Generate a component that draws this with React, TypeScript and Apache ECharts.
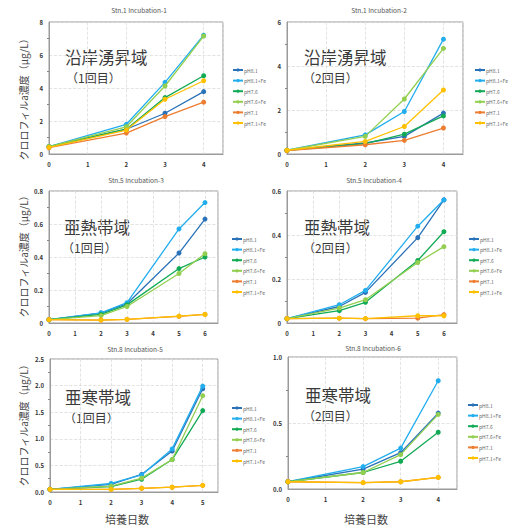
import React, { useEffect, useRef } from "react";
import * as echarts from "echarts";

const seriesNames = ["pH8.1", "pH8.1+Fe", "pH7.6", "pH7.6+Fe", "pH7.1", "pH7.1+Fe"];
const seriesColors = ["#2a72b8", "#22aeee", "#12aa55", "#92cf50", "#ed7d31", "#ffc000"];

const panelTitles = [
  "Stn.1 Incubation-1",
  "Stn.1 Incubation-2",
  "Stn.5 Incubation-3",
  "Stn.5 Incubation-4",
  "Stn.8 Incubation-5",
  "Stn.8 Incubation-6",
];
const regionLabels = ["沿岸湧昇域", "沿岸湧昇域", "亜熱帯域", "亜熱帯域", "亜寒帯域", "亜寒帯域"];
const roundLabels = ["（1回目）", "（2回目）", "（1回目）", "（2回目）", "（1回目）", "（2回目）"];
const yAxisTitle = "クロロフィルa濃度（μg/L）";
const xAxisTitle = "培養日数";

const yMaxes = [8, 6, 0.8, 0.6, 2.5, 1.0];
const yIntervals = [2, 2, 0.2, 0.2, 0.5, 0.5];
const xMaxes = [4.5, 4.5, 6.5, 6.5, 5.5, 4.5];

const inc1Days = [0, 2, 3, 4];
const inc1 = [
  [0.45, 1.5, 2.47, 3.78],
  [0.45, 1.8, 4.34, 7.2],
  [0.45, 1.5, 3.42, 4.74],
  [0.45, 1.65, 4.12, 7.15],
  [0.38, 1.27, 2.27, 3.14],
  [0.4, 1.45, 3.32, 4.44],
];

const inc2Days = [0, 2, 3, 4];
const inc2 = [
  [0.17, 0.5, 0.8, 1.86],
  [0.17, 0.87, 1.93, 5.22],
  [0.17, 0.47, 0.9, 1.73],
  [0.17, 0.8, 2.5, 4.8],
  [0.15, 0.42, 0.62, 1.18],
  [0.17, 0.57, 1.25, 2.91],
];

const inc3Days = [0, 2, 3, 5, 6];
const inc3 = [
  [0.02, 0.06, 0.117, 0.424, 0.63],
  [0.02, 0.062, 0.123, 0.57, 0.73],
  [0.02, 0.052, 0.11, 0.33, 0.4],
  [0.02, 0.045, 0.1, 0.3, 0.42],
  [0.02, 0.018, 0.022, 0.04, 0.052],
  [0.02, 0.018, 0.022, 0.042, 0.052],
];

const inc4Days = [0, 2, 3, 5, 6];
const inc4 = [
  [0.02, 0.075, 0.139, 0.388, 0.56],
  [0.02, 0.083, 0.148, 0.44, 0.56],
  [0.02, 0.056, 0.094, 0.284, 0.415],
  [0.02, 0.068, 0.106, 0.275, 0.347],
  [0.02, 0.022, 0.02, 0.022, 0.038],
  [0.02, 0.022, 0.02, 0.033, 0.033],
];

const inc5Days = [0, 2, 3, 4, 5];
const inc5 = [
  [0.05, 0.145, 0.33, 0.77, 1.94],
  [0.05, 0.16, 0.32, 0.81, 1.99],
  [0.05, 0.1, 0.24, 0.61, 1.53],
  [0.05, 0.11, 0.26, 0.61, 1.81],
  [0.05, 0.05, 0.07, 0.09, 0.125],
  [0.05, 0.05, 0.07, 0.09, 0.125],
];

const inc6Days = [0, 2, 3, 4];
const inc6 = [
  [0.055, 0.15, 0.275, 0.575],
  [0.055, 0.17, 0.31, 0.82],
  [0.055, 0.125, 0.21, 0.43],
  [0.055, 0.125, 0.26, 0.565],
  [0.055, 0.048, 0.055, 0.088],
  [0.055, 0.048, 0.055, 0.088],
];

const panelDays = [inc1Days, inc2Days, inc3Days, inc4Days, inc5Days, inc6Days];
const panelValues = [inc1, inc2, inc3, inc4, inc5, inc6];

// layout (pixels)
const grids = [
  { left: 49, top: 22, width: 174, height: 132 },
  { left: 287, top: 22, width: 176, height: 132 },
  { left: 49, top: 191, width: 169, height: 132 },
  { left: 287, top: 191, width: 170, height: 132 },
  { left: 50, top: 359, width: 168, height: 133 },
  { left: 288, top: 357, width: 169, height: 132 },
];
const legendPos = [
  { left: 232, top: 67 },
  { left: 474, top: 67 },
  { left: 231, top: 236 },
  { left: 468, top: 236 },
  { left: 231, top: 405 },
  { left: 467, top: 402 },
];
const titlePos = [
  [139, 10],
  [379, 10],
  [136, 180],
  [374, 180],
  [135, 349],
  [373, 348],
];
const regionPos = [
  [65, 57],
  [304, 57],
  [64, 227],
  [304, 227],
  [65, 396.5],
  [305, 394.5],
];
const roundPos = [
  [66, 77.8],
  [303, 77.8],
  [62, 247.8],
  [303, 247.8],
  [64, 417.3],
  [303, 415.3],
];
const yTitlePos = [
  [23, 97],
  [23, 254],
  [23, 423],
];
const xTitlePos = [
  [127, 519],
  [366, 519],
];

const FONT = '"Noto Sans CJK JP", "Noto Sans", sans-serif';

export default function App() {
  const ref = useRef<HTMLDivElement>(null);
  useEffect(() => {
    if (!ref.current) return;
    const chart = echarts.init(ref.current, undefined, { renderer: "svg" });

    const series: any[] = [];
    panelValues.forEach((vals, p) => {
      vals.forEach((row, s) => {
        series.push({
          type: "line",
          name: seriesNames[s],
          xAxisIndex: p,
          yAxisIndex: p,
          data: row.map((v, i) => [panelDays[p][i], v]),
          symbol: "circle",
          symbolSize: 5,
          itemStyle: { color: seriesColors[s] },
          lineStyle: { color: seriesColors[s], width: 1.3 },
          z: 2 + s,
        });
      });
    });

    const txt = (x: number, y: number, text: string, fontSize: number, fill: string, align: string, extra: any = {}) => ({
      type: "text",
      x,
      y,
      ...extra,
      style: {
        text,
        fontSize,
        lineHeight: Math.round(fontSize * 1.05),
        fontFamily: FONT,
        fill,
        align,
        verticalAlign: "middle",
        textAlign: align,
        textVerticalAlign: "middle",
      },
    });

    const graphic: any[] = [];
    panelTitles.forEach((t, p) => {
      graphic.push(txt(titlePos[p][0], titlePos[p][1], t, 6.5, "#555", "center"));
      graphic.push(txt(regionPos[p][0], regionPos[p][1], regionLabels[p], 16.5, "#3a3a3a", "left"));
      graphic.push(txt(roundPos[p][0], roundPos[p][1], roundLabels[p], 12, "#3a3a3a", "left"));
    });
    yTitlePos.forEach(([x, y]) => {
      graphic.push(txt(x, y, yAxisTitle, 10, "#444", "center", { rotation: Math.PI / 2 }));
    });
    xTitlePos.forEach(([x, y]) => {
      graphic.push(txt(x, y, xAxisTitle, 11, "#444", "center"));
    });

    const option: any = {
      animation: false,
      backgroundColor: "#fff",
      textStyle: { fontFamily: FONT },
      grid: grids.map((g) => ({
        ...g,
        show: true,
        borderColor: "#9a9a9a",
        borderWidth: 1,
        containLabel: false,
      })),
      xAxis: grids.map((_, p) => ({
        type: "value",
        gridIndex: p,
        min: 0,
        max: xMaxes[p],
        interval: 1,
        axisLine: { show: true, lineStyle: { color: "#9a9a9a" } },
        axisTick: { show: false },
        axisLabel: {
          fontSize: 6,
          color: "#333",
          margin: 7,
          fontWeight: "bold",
          showMaxLabel: false,
          formatter: (v: number) => (Number.isInteger(v) ? String(v) : ""),
        },
        splitLine: { show: true, lineStyle: { color: "#dcdcdc", type: "dashed", width: 0.8 } },
      })),
      yAxis: grids.map((_, p) => ({
        type: "value",
        gridIndex: p,
        min: 0,
        max: yMaxes[p],
        interval: yIntervals[p],
        axisLine: { show: true, lineStyle: { color: "#9a9a9a" } },
        axisTick: { show: false },
        minorTick: { show: true, splitNumber: 2, length: 2, lineStyle: { color: "#888" } },
        axisLabel: {
          fontSize: 6,
          color: "#333",
          margin: 6,
          fontWeight: "bold",
          formatter: (v: number) => {
            if (yIntervals[p] < 1) return v === 0 ? (p === 4 || p === 5 ? "0.0" : "0") : v.toFixed(1);
            return String(v);
          },
        },
        splitLine: { show: true, lineStyle: { color: "#dcdcdc", type: "dashed", width: 0.8 } },
      })),
      legend: legendPos.map((lp) => ({
        ...lp,
        orient: "vertical",
        padding: 0,
        itemWidth: 10,
        itemHeight: 4,
        itemGap: 4.6,
        data: seriesNames,
        selectedMode: false,
        textStyle: { fontSize: 5, color: "#666", padding: [0, 0, 0, -4], lineHeight: 6 },
      })),
      series,
      graphic,
    };
    chart.setOption(option);
    return () => chart.dispose();
  }, []);
  return (
    <div
      ref={ref}
      style={{ position: "absolute", left: 0, top: 0, width: 509, height: 527 }}
    />
  );
}
